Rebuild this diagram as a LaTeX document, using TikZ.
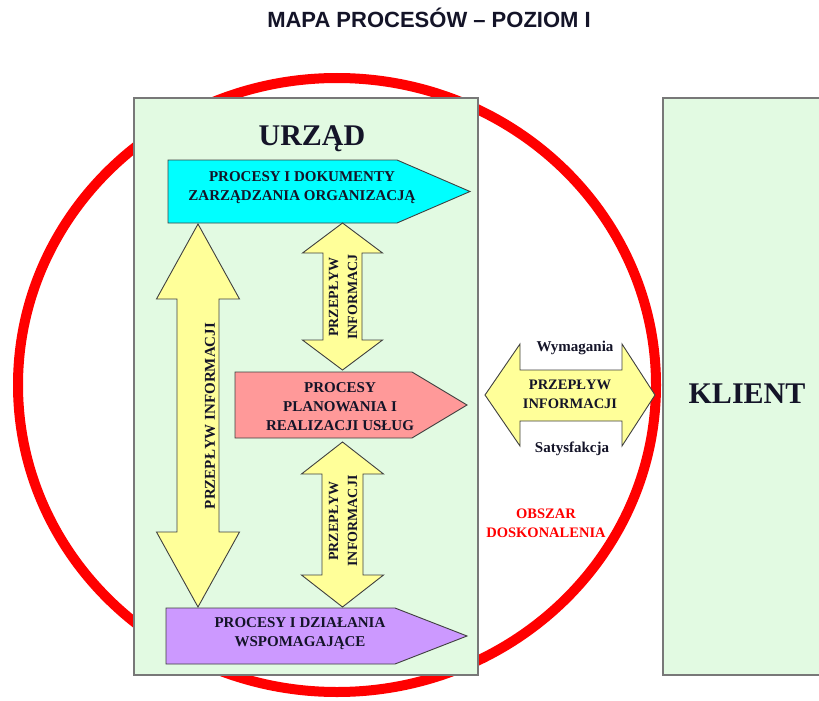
\documentclass[tikz,border=0pt]{standalone}
\usepackage{fontspec}
\setmainfont{Liberation Serif}
\newfontfamily\titlefont{Liberation Sans}
\definecolor{boxgreen}{RGB}{226,250,226}
\definecolor{boxline}{RGB}{120,120,120}
\definecolor{cyanfill}{RGB}{0,255,255}
\definecolor{pinkfill}{RGB}{255,153,153}
\definecolor{purplefill}{RGB}{204,153,255}
\definecolor{yellowfill}{RGB}{255,255,153}
\definecolor{circred}{RGB}{255,0,0}
\definecolor{txt}{RGB}{20,20,40}
\newcommand{\dblV}[6]{% cx, ytop, ybottom, head length, shaft half, head half
  \filldraw[yarrow] (#1,#2) -- (#1+#6,#2+#4) -- (#1+#5,#2+#4) -- (#1+#5,#3-#4) -- (#1+#6,#3-#4)
    -- (#1,#3) -- (#1-#6,#3-#4) -- (#1-#5,#3-#4) -- (#1-#5,#2+#4) -- (#1-#6,#2+#4) -- cycle;}
\begin{document}
\begin{tikzpicture}[x=1pt,y=-1pt,
  bigbox/.style={fill=boxgreen,draw=boxline,line width=2pt},
  yarrow/.style={fill=yellowfill,draw=black!75,line width=0.9pt,line join=miter},
  procshape/.style={draw=black!75,line width=0.9pt},
  proctext/.style={text=txt,font=\bfseries\fontsize{15}{19}\selectfont,align=center,inner sep=0pt},
  flowtext/.style={text=txt,font=\bfseries\fontsize{14}{19}\selectfont,align=center,inner sep=0pt},
  lbl/.style={text=txt,font=\bfseries\fontsize{15}{18}\selectfont,inner sep=0pt}]
\useasboundingbox (0,0) rectangle (819,701);
\fill[white] (0,0) rectangle (819,701);
% title
\node[font=\titlefont\bfseries\fontsize{22}{26}\selectfont,text=txt,inner sep=0pt] (title) at (429,18) {MAPA PROCESÓW – POZIOM I};
% circle
\draw[circred,line width=10pt] (337,385) ellipse [x radius=319,y radius=307];
% boxes
\draw[bigbox] (134,98) rectangle (478,675);
\draw[bigbox] (663,98) rectangle (830,675);
\node[font=\bfseries\fontsize{30}{34}\selectfont,text=txt,anchor=base,inner sep=0pt] (urzad) at (312,145) {URZĄD};
\node[font=\bfseries\fontsize{30}{34}\selectfont,text=txt,anchor=base,inner sep=0pt] (klient) at (747,403) {KLIENT};
% process arrows
\filldraw[procshape,fill=cyanfill] (168,160) -- (397,160) -- (470,191.5) -- (397,223) -- (168,223) -- cycle;
\filldraw[procshape,fill=pinkfill] (235,372) -- (412,372) -- (467,405) -- (412,438) -- (235,438) -- cycle;
\filldraw[procshape,fill=purplefill] (166,608) -- (395,608) -- (467,636) -- (395,664) -- (166,664) -- cycle;
\node[proctext] (zarz) at (302,188) {PROCESY I DOKUMENTY\\ZARZĄDZANIA ORGANIZACJĄ};
\node[proctext] (plan) at (340,407) {PROCESY\\PLANOWANIA I\\REALIZACJI USŁUG};
\node[proctext] (wsp) at (300,634) {PROCESY I DZIAŁANIA\\WSPOMAGAJĄCE};
% yellow double arrows
\dblV{198}{224}{607}{75}{21}{41.5}
\dblV{342.5}{223}{370}{30}{19.5}{40}
\dblV{342.5}{442}{607}{32}{20.5}{41}
\filldraw[yarrow] (485,395) -- (520,344) -- (520,370) -- (622,370) -- (622,344) -- (655,395)
  -- (622,446) -- (622,421) -- (520,421) -- (520,446) -- cycle;
\node[flowtext,font=\bfseries\fontsize{15}{19}\selectfont,rotate=90] (flowL) at (210,416) {PRZEPŁYW INFORMACJI};
\node[flowtext,rotate=90] (flowU) at (343,297) {PRZEPŁYW\\INFORMACJ};
\node[flowtext,rotate=90] (flowD) at (343,521) {PRZEPŁYW\\INFORMACJI};
\node[flowtext,font=\bfseries\fontsize{14.5}{19}\selectfont] (flowH) at (570,394) {PRZEPŁYW\\INFORMACJI};
\node[lbl] (wym) at (575,348) {Wymagania};
\node[lbl] (sat) at (572,449) {Satysfakcja};
\node[flowtext,text=circred,font=\bfseries\fontsize{14.5}{19}\selectfont] (obszar) at (546,523) {OBSZAR\\DOSKONALENIA};
\end{tikzpicture}
\end{document}
